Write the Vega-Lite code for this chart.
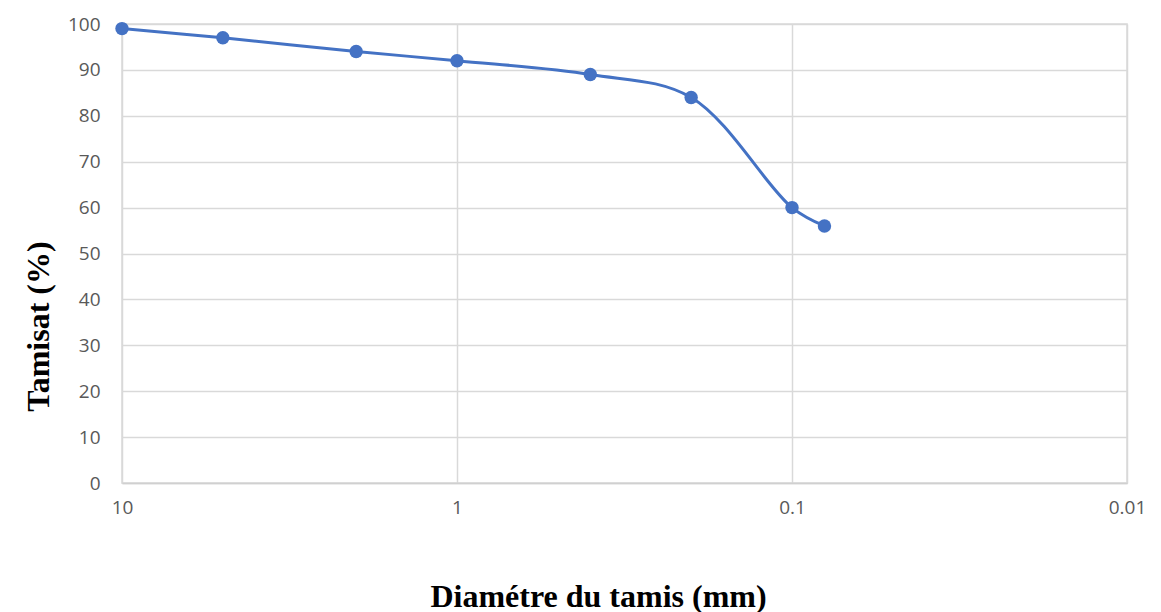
{
  "$schema": "https://vega.github.io/schema/vega-lite/v6.json",
  "width": 1005,
  "height": 459,
  "autosize": {"type": "none"},
  "padding": {"left": 122, "top": 24, "right": 34, "bottom": 129},
  "background": "white",
  "data": {"values": [
    {"d": 10, "t": 99},
    {"d": 5, "t": 97},
    {"d": 2, "t": 94},
    {"d": 1, "t": 92},
    {"d": 0.4, "t": 89},
    {"d": 0.2, "t": 84},
    {"d": 0.1, "t": 60},
    {"d": 0.08, "t": 56}
  ]},
  "encoding": {
    "x": {
      "field": "d", "type": "quantitative",
      "scale": {"type": "log", "domain": [0.01, 10], "reverse": true, "nice": false},
      "axis": {
        "values": [10, 1, 0.1, 0.01],
        "labelExpr": "datum.value >= 1 ? format(datum.value, 'd') : format(datum.value, '~g')",
        "labelFlush": false,
        "title": "Diamétre du tamis (mm)",
        "titleFont": "Liberation Serif", "titleFontWeight": "bold", "titleFontSize": 32, "titleColor": "black",
        "titleX": 476, "titleY": 123, "titleBaseline": "alphabetic", "titleAlign": "center",
        "labelFont": "Open Sans", "labelFontSize": 19, "labelColor": "#595959", "labelPadding": 15,
        "ticks": false, "domain": true, "domainColor": "#d0d0d0", "domainWidth": 1.5,
        "grid": true, "gridColor": "#d9d9d9", "gridWidth": 1.5
      }
    },
    "y": {
      "field": "t", "type": "quantitative",
      "scale": {"domain": [0, 100], "nice": false},
      "axis": {
        "values": [0, 10, 20, 30, 40, 50, 60, 70, 80, 90, 100],
        "title": "Tamisat (%)",
        "titleFont": "Liberation Serif", "titleFontWeight": "bold", "titleFontSize": 32, "titleColor": "black",
        "titleX": -84, "titleY": 302, "titleAngle": -90, "titleBaseline": "middle", "titleAlign": "center",
        "labelFont": "Open Sans", "labelFontSize": 19, "labelColor": "#595959", "labelPadding": 22,
        "ticks": false, "domain": false,
        "grid": true, "gridColor": "#d9d9d9", "gridWidth": 1.5
      }
    }
  },
  "layer": [
    {"mark": {"type": "line", "interpolate": "catmull-rom", "color": "#4472c4", "strokeWidth": 3}},
    {"mark": {"type": "point", "filled": true, "opacity": 1, "color": "#4472c4", "size": 180}}
  ],
  "config": {"view": {"stroke": "#d9d9d9", "strokeWidth": 1.5}}
}
